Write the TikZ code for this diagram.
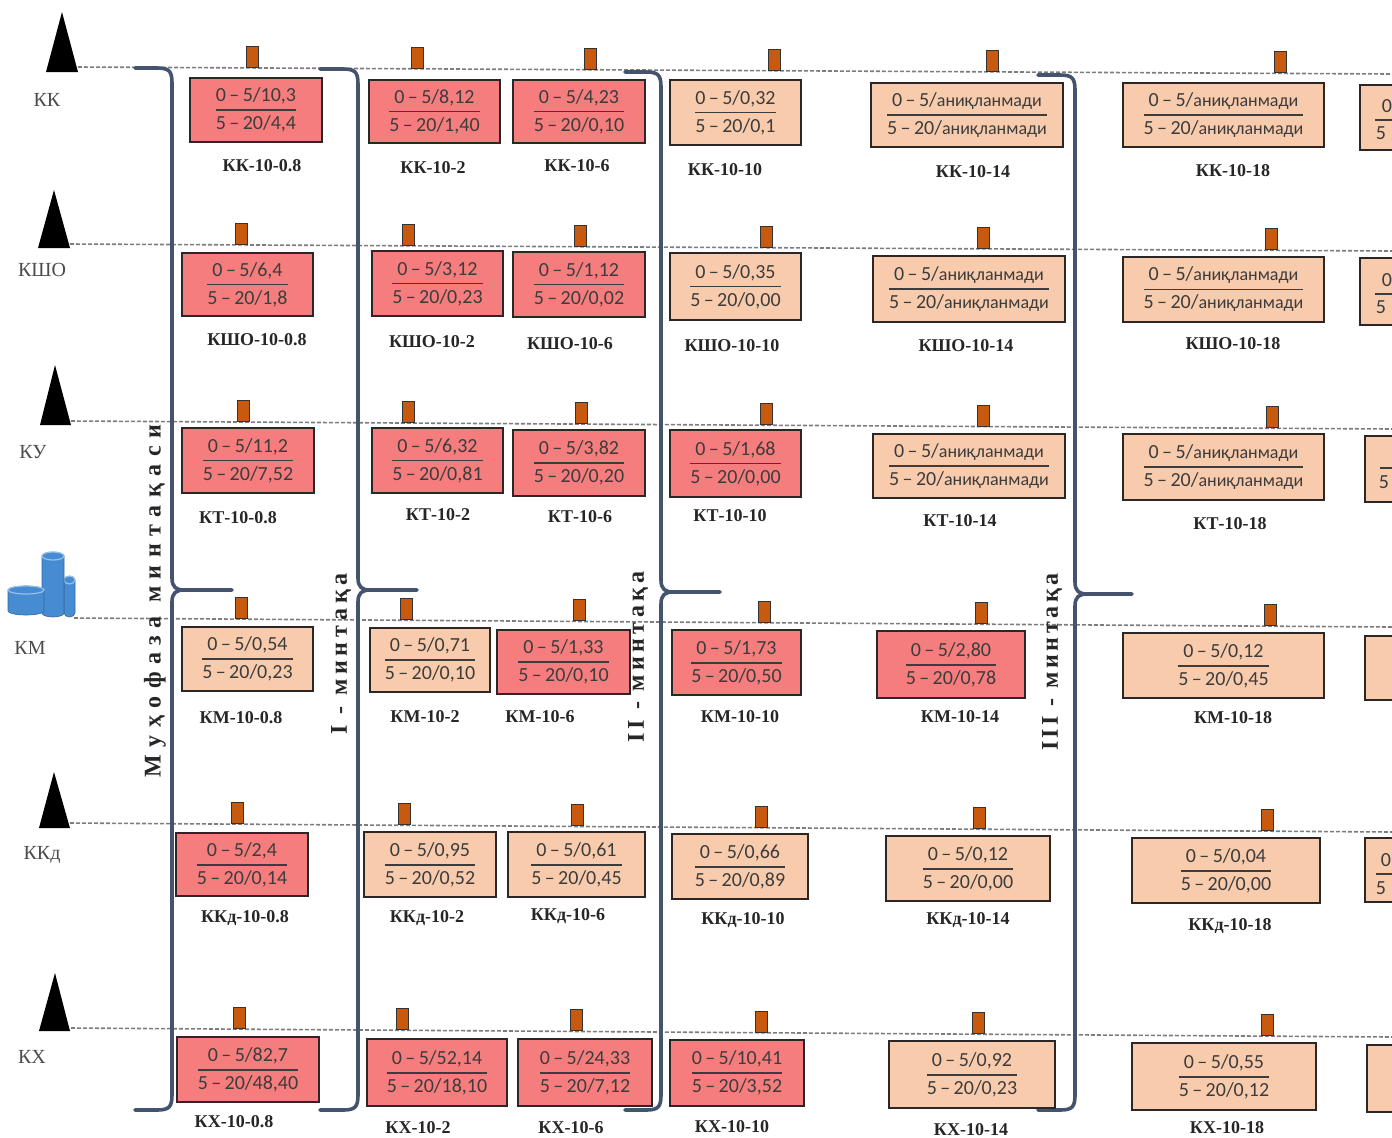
\documentclass[tikz,border=0pt]{standalone}
\usepackage{amsmath}
\usepackage{fontspec}
\setmainfont{Liberation Serif}
\newfontfamily\boxfont{Carlito}
\usetikzlibrary{calc}
\definecolor{redfill}{RGB}{245,125,125}
\definecolor{peach}{RGB}{248,203,173}
\definecolor{bord}{RGB}{45,38,38}
\definecolor{brc}{RGB}{68,84,110}
\definecolor{mkc}{RGB}{200,90,15}
\definecolor{txtc}{RGB}{60,60,60}
\definecolor{dashc}{RGB}{125,125,125}
\definecolor{cylc}{RGB}{70,140,210}
\tikzset{
 cellbox/.style={draw=bord, line width=1.2pt, inner sep=0pt, text=txtc, font=\boxfont\fontsize{10}{12}\selectfont},
 redc/.style={cellbox, fill=redfill},
 peachc/.style={cellbox, fill=peach},
 lbl/.style={font=\bfseries\fontsize{9}{10}\selectfont, text=black!85, inner sep=0pt},
 rowlbl/.style={font=\fontsize{10}{12}\selectfont, text=black!70, inner sep=0pt},
 frag/.style={font=\boxfont\fontsize{10}{12}\selectfont, text=txtc, inner sep=0pt},
 marker/.style={draw=black!80, fill=mkc, line width=0.5pt, minimum width=6pt, minimum height=10.5pt, inner sep=0pt, anchor=south},
 rowline/.style={draw=dashc, line width=0.8pt, dash pattern=on 2pt off 1pt},
 bracepath/.style={draw=brc, line width=1.8pt, line cap=round, line join=round},
 zone/.style={font=\bfseries\fontsize{12}{14}\selectfont, rotate=90, inner sep=0pt, text=black!85},
}
\newcommand\frc[2]{$\genfrac{}{}{0.8pt}{0}{\mbox{#1}}{\mbox{#2}}$}
\newcommand\md{\hspace{0.17em}–\hspace{0.17em}}
\newcommand\an{{\fontsize{9}{10}\selectfont аниқланмади}}
\newcommand\cell[8]{%
  \pgfmathsetmacro\cw{(#4-#2)*0.5}\pgfmathsetmacro\ch{(#5-#3)*0.5}%
  \node[#6, minimum width=\cw pt, minimum height=\ch pt] (#1) at ({(#2+#4)/2},{(#3+#5)/2}) {\frc{#7}{#8}};}
\newcommand\lab[4]{\node[lbl] (#1) at (#2,#3) {#4};}
\newcommand\mkr[3]{\node[marker] (#1) at ($(#3s)!(#2,0)!(#3e)$) {};}
\newcommand\brc[6]{% x0 ytop xv ymid xtip ybot
  \draw[bracepath] (#1,#2) -- (#3-15,#2) .. controls (#3-3,#2) and (#3,#2+3) .. (#3,#2+15)
    -- (#3,#4-12) .. controls (#3,#4-3) and (#3+4,#4) .. (#3+12,#4) -- (#5,#4)
    -- (#3+12,#4) .. controls (#3+4,#4) and (#3,#4+3) .. (#3,#4+12)
    -- (#3,#6-15) .. controls (#3,#6-3) and (#3-3,#6) .. (#3-15,#6) -- (#1,#6);}
\newcommand\cyl[4]{% xl xr ytop ybot
  \pgfmathsetmacro\rx{(#2-#1)/2}%
  \filldraw (#1,#3) -- (#1,#4) arc[start angle=180,end angle=0,x radius=\rx,y radius=4] -- (#2,#3) arc[start angle=0,end angle=-180,x radius=\rx,y radius=4] -- cycle;
  \draw[cylc!55!white, line width=0.6pt] ({(#1+#2)/2},#3) ellipse[x radius=\rx,y radius=4];}
\begin{document}
\begin{tikzpicture}[x=0.5pt,y=-0.5pt]
\useasboundingbox (0,0) rectangle (1392,1137);
\clip (0,0) rectangle (1392,1137);
\fill[white] (0,0) rectangle (1392,1137);

% row lines
\coordinate (r1s) at (78,67);   \coordinate (r1e) at (1392,74);
\coordinate (r2s) at (70,244);  \coordinate (r2e) at (1392,251);
\coordinate (r3s) at (71,421);  \coordinate (r3e) at (1392,429);
\coordinate (r4s) at (74,618);  \coordinate (r4e) at (1392,627);
\coordinate (r5s) at (70,823);  \coordinate (r5e) at (1392,832);
\coordinate (r6s) at (71,1028); \coordinate (r6e) at (1392,1037);
\foreach \r in {1,...,6} {\draw[rowline] (r\r s) -- (r\r e);}

% source symbols
\fill (46,72) -- (62,12) -- (78,72) -- cycle;
\fill (38,248) -- (54,190) -- (70,248) -- cycle;
\fill (40,425) -- (55,365) -- (71,425) -- cycle;
\fill (39,828) -- (54,772) -- (70,828) -- cycle;
\fill (39,1031) -- (55,973) -- (70,1031) -- cycle;
% cylinders (KM)
\begin{scope}[fill=cylc, draw=cylc!75!black, line width=0.3pt]
 \cyl{64}{75}{580}{613}
 \cyl{42}{64}{556}{613}
 \cyl{8}{44}{590}{611}
\end{scope}

% row labels
\node[rowlbl] (lKK) at (47,100) {КК};
\node[rowlbl] (lKSH) at (42,270) {КШО};
\node[rowlbl] (lKU) at (33,452) {КУ};
\node[rowlbl] (lKM) at (30,648) {КМ};
\node[rowlbl] (lKKd) at (42,855) {ККд};
\node[rowlbl] (lKX) at (32,1057) {КХ};

% braces
\brc{135}{68}{172}{590}{232}{1110}
\brc{320}{69}{358}{590}{417}{1110}
\brc{625}{72}{661}{592}{720}{1110}
\brc{1038}{75}{1075}{594}{1132}{1110}

% zone labels
\node[zone] (z0) at (155,601) {\addfontfeature{LetterSpace=31}Муҳофаза минтақаси};
\node[zone] (z1) at (341,654) {\addfontfeature{LetterSpace=20}I - минтақа};
\node[zone] (z2) at (638,657) {\addfontfeature{LetterSpace=18}II - минтақа};
\node[zone] (z3) at (1052,662) {\addfontfeature{LetterSpace=15}III - минтақа};

% markers
\mkr{m11}{253}{r1}\mkr{m12}{418}{r1}\mkr{m13}{591}{r1}\mkr{m14}{775}{r1}\mkr{m15}{993}{r1}\mkr{m16}{1281}{r1}
\mkr{m21}{243}{r2}\mkr{m22}{410}{r2}\mkr{m23}{582}{r2}\mkr{m24}{768}{r2}\mkr{m25}{985}{r2}\mkr{m26}{1273}{r2}
\mkr{m31}{246}{r3}\mkr{m32}{411}{r3}\mkr{m33}{584}{r3}\mkr{m34}{769}{r3}\mkr{m35}{986}{r3}\mkr{m36}{1275}{r3}
\mkr{m41}{246}{r4}\mkr{m42}{411}{r4}\mkr{m43}{584}{r4}\mkr{m44}{769}{r4}\mkr{m45}{986}{r4}\mkr{m46}{1275}{r4}
\mkr{m51}{243}{r5}\mkr{m52}{410}{r5}\mkr{m53}{583}{r5}\mkr{m54}{767}{r5}\mkr{m55}{985}{r5}\mkr{m56}{1273}{r5}
\mkr{m61}{246}{r6}\mkr{m62}{410}{r6}\mkr{m63}{584}{r6}\mkr{m64}{769}{r6}\mkr{m65}{986}{r6}\mkr{m66}{1275}{r6}

% row 1
\cell{a1}{190}{78}{322}{142}{redc}{0\md5/10,3}{5\md20/4,4}
\cell{a2}{369}{80}{500}{143}{redc}{0\md5/8,12}{5\md20/1,40}
\cell{a3}{513}{80}{645}{143}{redc}{0\md5/4,23}{5\md20/0,10}
\cell{a4}{670}{80}{801}{145}{peachc}{0\md5/0,32}{5\md20/0,1}
\cell{a5}{871}{83}{1063}{147}{peachc}{0\md5/\an}{5\md20/\an}
\cell{a6}{1123}{83}{1324}{147}{peachc}{0\md5/\an}{5\md20/\an}
\lab{a1l}{262}{166}{КК-10-0.8}\lab{a2l}{433}{168}{КК-10-2}\lab{a3l}{577}{166}{КК-10-6}
\lab{a4l}{725}{170}{КК-10-10}\lab{a5l}{973}{172}{КК-10-14}\lab{a6l}{1233}{171}{КК-10-18}
% row 2
\cell{b1}{182}{253}{313}{316}{redc}{0\md5/6,4}{5\md20/1,8}
\cell{b2}{372}{251}{503}{316}{redc}{0\md5/3,12}{5\md20/0,23}
\cell{b3}{513}{252}{645}{317}{redc}{0\md5/1,12}{5\md20/0,02}
\cell{b4}{670}{253}{801}{320}{peachc}{0\md5/0,35}{5\md20/0,00}
\cell{b5}{873}{256}{1065}{322}{peachc}{0\md5/\an}{5\md20/\an}
\cell{b6}{1123}{257}{1324}{322}{peachc}{0\md5/\an}{5\md20/\an}
\lab{b1l}{257}{340}{КШО-10-0.8}\lab{b2l}{432}{342}{КШО-10-2}\lab{b3l}{570}{344}{КШО-10-6}
\lab{b4l}{732}{346}{КШО-10-10}\lab{b5l}{966}{346}{КШО-10-14}\lab{b6l}{1233}{344}{КШО-10-18}
% row 3
\cell{c1}{182}{428}{314}{493}{redc}{0\md5/11,2}{5\md20/7,52}
\cell{c2}{372}{428}{503}{493}{redc}{0\md5/6,32}{5\md20/0,81}
\cell{c3}{513}{430}{645}{496}{redc}{0\md5/3,82}{5\md20/0,20}
\cell{c4}{670}{430}{801}{497}{redc}{0\md5/1,68}{5\md20/0,00}
\cell{c5}{873}{434}{1065}{498}{peachc}{0\md5/\an}{5\md20/\an}
\cell{c6}{1123}{434}{1324}{500}{peachc}{0\md5/\an}{5\md20/\an}
\lab{c1l}{238}{518}{КТ-10-0.8}\lab{c2l}{438}{515}{КТ-10-2}\lab{c3l}{580}{517}{КТ-10-6}
\lab{c4l}{730}{516}{КТ-10-10}\lab{c5l}{960}{521}{КТ-10-14}\lab{c6l}{1230}{524}{КТ-10-18}
% row 4
\cell{d1}{182}{627}{313}{691}{peachc}{0\md5/0,54}{5\md20/0,23}
\cell{d2}{370}{628}{490}{692}{peachc}{0\md5/0,71}{5\md20/0,10}
\cell{d3}{497}{630}{630}{694}{redc}{0\md5/1,33}{5\md20/0,10}
\cell{d4}{672}{630}{801}{695}{redc}{0\md5/1,73}{5\md20/0,50}
\cell{d5}{877}{631}{1025}{698}{redc}{0\md5/2,80}{5\md20/0,78}
\cell{d6}{1123}{633}{1324}{698}{peachc}{0\md5/0,12}{5\md20/0,45}
\lab{d1l}{241}{718}{КМ-10-0.8}\lab{d2l}{425}{717}{КМ-10-2}\lab{d3l}{540}{717}{КМ-10-6}
\lab{d4l}{740}{717}{КМ-10-10}\lab{d5l}{960}{717}{КМ-10-14}\lab{d6l}{1233}{718}{КМ-10-18}
% row 5
\cell{e1}{176}{833}{308}{896}{redc}{0\md5/2,4}{5\md20/0,14}
\cell{e2}{364}{832}{496}{897}{peachc}{0\md5/0,95}{5\md20/0,52}
\cell{e3}{508}{832}{645}{897}{peachc}{0\md5/0,61}{5\md20/0,45}
\cell{e4}{672}{834}{808}{899}{peachc}{0\md5/0,66}{5\md20/0,89}
\cell{e5}{886}{836}{1050}{901}{peachc}{0\md5/0,12}{5\md20/0,00}
\cell{e6}{1132}{838}{1320}{903}{peachc}{0\md5/0,04}{5\md20/0,00}
\lab{e1l}{245}{918}{ККд-10-0.8}\lab{e2l}{427}{918}{ККд-10-2}\lab{e3l}{568}{916}{ККд-10-6}
\lab{e4l}{743}{920}{ККд-10-10}\lab{e5l}{968}{920}{ККд-10-14}\lab{e6l}{1230}{926}{ККд-10-18}
% row 6
\cell{f1}{177}{1037}{319}{1102}{redc}{0\md5/82,7}{5\md20/48,40}
\cell{f2}{367}{1039}{507}{1106}{redc}{0\md5/52,14}{5\md20/18,10}
\cell{f3}{518}{1039}{652}{1106}{redc}{0\md5/24,33}{5\md20/7,12}
\cell{f4}{670}{1040}{804}{1106}{redc}{0\md5/10,41}{5\md20/3,52}
\cell{f5}{889}{1041}{1055}{1108}{peachc}{0\md5/0,92}{5\md20/0,23}
\cell{f6}{1132}{1043}{1316}{1110}{peachc}{0\md5/0,55}{5\md20/0,12}
\lab{f1l}{234}{1122}{КХ-10-0.8}\lab{f2l}{418}{1128}{КХ-10-2}\lab{f3l}{571}{1128}{КХ-10-6}
\lab{f4l}{732}{1127}{КХ-10-10}\lab{f5l}{971}{1130}{КХ-10-14}\lab{f6l}{1227}{1128}{КХ-10-18}

% partial boxes at the right edge
\begin{scope}[every path/.style={draw=bord, line width=1.2pt, fill=peach}]
 \path (1360,85) rectangle (1420,150);
 \path (1360,258) rectangle (1420,325);
 \path (1365,436) rectangle (1420,502);
 \path (1365,636) rectangle (1420,700);
 \path (1365,838) rectangle (1420,902);
 \path (1367,1045) rectangle (1420,1112);
\end{scope}
\node[frag] (p1a) at (1387,106) {0};\node[frag] (p1b) at (1381,133) {5};
\draw[txtc, line width=0.8pt] (1375,120) -- (1392,120);
\node[frag] (p2a) at (1387,280) {0};\node[frag] (p2b) at (1381,307) {5};
\draw[txtc, line width=0.8pt] (1375,294) -- (1392,294);
\node[frag] (p3b) at (1384,482) {5};
\draw[txtc, line width=0.8pt] (1380,468) -- (1392,468);
\node[frag] (p5a) at (1386,860) {0};\node[frag] (p5b) at (1381,888) {5};
\draw[txtc, line width=0.8pt] (1376,874) -- (1392,874);
\end{tikzpicture}
\end{document}
